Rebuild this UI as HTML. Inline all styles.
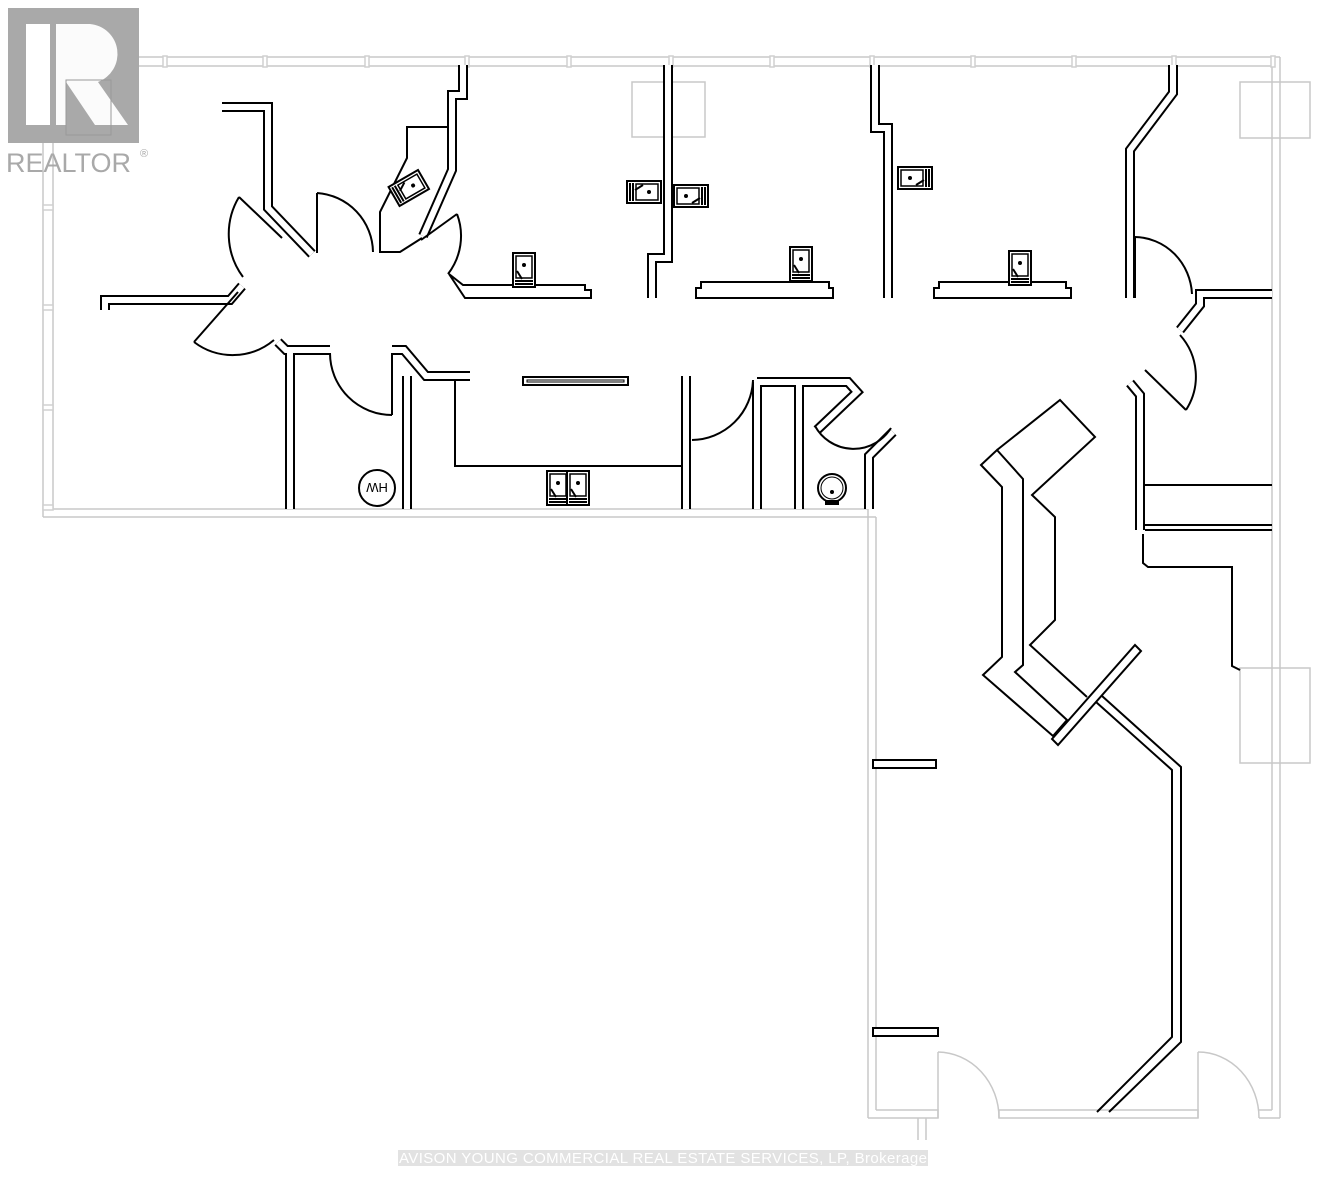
<!DOCTYPE html>
<html><head><meta charset="utf-8"><style>
html,body{margin:0;padding:0;background:#fff}
svg{display:block}
.t{fill:none;stroke:#000;stroke-width:2}
.p{fill:#fff;stroke:#000;stroke-width:2}
.g{fill:none;stroke:#c8c8c8;stroke-width:1.5}
.wb polyline,.wb line{fill:none;stroke:#000;stroke-width:10}
.ww polyline,.ww line{fill:none;stroke:#fff;stroke-width:6}
</style></head><body>
<svg width="1324" height="1200" viewBox="0 0 1324 1200" xmlns="http://www.w3.org/2000/svg">
<defs>
<g id="sv">
<rect x="0" y="0" width="22" height="34" fill="#fff" stroke="#000" stroke-width="2"/>
<rect x="3" y="3" width="16" height="22" fill="none" stroke="#000" stroke-width="1.5"/>
<circle cx="11" cy="12" r="2" fill="#000"/>
<line x1="4" y1="18" x2="9" y2="26" stroke="#000" stroke-width="2"/>
<line x1="2" y1="28" x2="20" y2="28" stroke="#000" stroke-width="2"/>
<line x1="2" y1="31" x2="20" y2="31" stroke="#000" stroke-width="2"/>
</g>
</defs>

<g class="g">
<line x1="43" y1="57" x2="1280" y2="57"/>
<line x1="53" y1="66" x2="1272" y2="66"/>
<line x1="43" y1="57" x2="43" y2="517"/>
<line x1="53" y1="66" x2="53" y2="509"/>
<line x1="53" y1="509" x2="868" y2="509"/>
<line x1="43" y1="517" x2="876" y2="517"/>
<line x1="876" y1="517" x2="876" y2="1110"/>
<line x1="868" y1="509" x2="868" y2="1118"/>
<line x1="1272" y1="66" x2="1272" y2="1110"/>
<line x1="1280" y1="57" x2="1280" y2="1118"/>
<polyline points="876,1110 938,1110 938,1118 868,1118"/>
<polyline points="999,1110 1198,1110 1198,1118 999,1118 999,1110"/>
<line x1="1259" y1="1110" x2="1272" y2="1110"/>
<line x1="1259" y1="1118" x2="1280" y2="1118"/>
<line x1="918" y1="1118" x2="918" y2="1140"/><line x1="926" y1="1118" x2="926" y2="1140"/>
<rect x="632" y="82" width="73" height="55"/>
<rect x="1240" y="82" width="70" height="56"/>
<rect x="1240" y="668" width="70" height="95"/>
<line x1="938" y1="1052" x2="938" y2="1118"/>
<path d="M938,1052 A62,66 0 0 1 999,1118"/>
<line x1="1198" y1="1052" x2="1198" y2="1118"/>
<path d="M1198,1052 A61,66 0 0 1 1259,1118"/>
</g>
<g stroke="#d0d0d0" stroke-width="1.5" fill="#fff">
<rect x="163" y="56" width="4" height="11"/><rect x="263" y="56" width="4" height="11"/><rect x="365" y="56" width="4" height="11"/><rect x="465" y="56" width="4" height="11"/><rect x="567" y="56" width="4" height="11"/><rect x="669" y="56" width="4" height="11"/><rect x="770" y="56" width="4" height="11"/><rect x="870" y="56" width="4" height="11"/><rect x="971" y="56" width="4" height="11"/><rect x="1072" y="56" width="4" height="11"/><rect x="1172" y="56" width="4" height="11"/><rect x="1271" y="56" width="4" height="11"/>
<rect x="43" y="105" width="10" height="5"/><rect x="43" y="205" width="10" height="5"/><rect x="43" y="305" width="10" height="5"/><rect x="43" y="405" width="10" height="5"/><rect x="43" y="505" width="10" height="5"/>
</g>

<g class="wb">
<polyline points="222,107 268,107 268,208 312,254"/>
<polyline points="105,310 105,300 230,300 242,286"/>
<polyline points="463,65 463,95 452,95 452,170 423,236"/>
<polyline points="668,65 668,258 652,258 652,298"/>
<polyline points="875,65 875,128 888,128 888,298"/>
<polyline points="1173,65 1173,93 1130,150 1130,298"/>
<polyline points="1272,294 1200,294 1200,305 1180,330"/>
<polyline points="278,342 286,350 330,350"/>
<line x1="290" y1="350" x2="290" y2="509"/>
<polyline points="392,350 404,350 426,376 470,376"/>
<polyline points="407,376 407,509"/>
<polyline points="686,376 686,509"/>
<polyline points="757,382 848,382 857,392 817,430"/>
<line x1="757" y1="382" x2="757" y2="509"/>
<line x1="799" y1="382" x2="799" y2="509"/>
<polyline points="893,432 869,456 869,509"/>
<polyline points="1130,383 1140,395 1140,530"/>
</g>
<g class="ww">
<polyline points="222,107 268,107 268,208 312,254"/>
<polyline points="105,310 105,300 230,300 242,286"/>
<polyline points="463,65 463,95 452,95 452,170 423,236"/>
<polyline points="668,65 668,258 652,258 652,298"/>
<polyline points="875,65 875,128 888,128 888,298"/>
<polyline points="1173,65 1173,93 1130,150 1130,298"/>
<polyline points="1272,294 1200,294 1200,305 1180,330"/>
<polyline points="278,342 286,350 330,350"/>
<line x1="290" y1="350" x2="290" y2="509"/>
<polyline points="392,350 404,350 426,376 470,376"/>
<polyline points="407,376 407,509"/>
<polyline points="686,376 686,509"/>
<polyline points="757,382 848,382 857,392 817,430"/>
<line x1="757" y1="382" x2="757" y2="509"/>
<line x1="799" y1="382" x2="799" y2="509"/>
<polyline points="893,432 869,456 869,509"/>
<polyline points="1130,383 1140,395 1140,530"/>
</g>

<g class="t">
<polyline points="447,127 407,127 407,158 380,212 380,252 400,252 422,238"/>
<polyline points="455,380 455,466 681,466"/>
<line x1="1145" y1="485" x2="1272" y2="485"/>
<line x1="1145" y1="525" x2="1272" y2="525"/>
<line x1="1145" y1="530" x2="1272" y2="530"/>
<polyline points="1143,534 1143,563 1148,567 1232,567 1232,666 1240,670"/>
</g>

<polygon class="p" points="449,274 463,285 585,285 585,290 591,290 591,298 465,298"/>
<polygon class="p" points="696,288 701,288 701,282 829,282 829,288 833,288 833,298 696,298"/>
<polygon class="p" points="934,288 939,288 939,282 1066,282 1066,288 1071,288 1071,298 934,298"/>
<rect class="p" x="523" y="377" width="105" height="8"/>
<rect x="527" y="380" width="97" height="2" fill="none" stroke="#000" stroke-width="1"/>

<polygon class="p" points="981,465 997,450 1023,479 1023,665 1015,672 1067,720 1053,736 983,675 1002,657 1002,487"/>
<polyline class="t" points="997,450 1060,400 1095,437 1032,495 1055,517 1055,620 1030,645 1087,697"/>
<polygon class="p" points="1052,739 1135,645 1141,651 1058,745"/>
<polyline class="t" points="1096,702 1172,770 1172,1037 1097,1112"/>
<polyline class="t" points="1102,696 1181,767 1181,1042 1109,1112"/>
<rect class="p" x="873" y="760" width="63" height="8"/>
<rect class="p" x="873" y="1028" width="65" height="8"/>

<g class="t">
<line x1="239" y1="197" x2="282" y2="238"/>
<path d="M239,197 A72,72 0 0 0 243,277"/>
<line x1="317" y1="193" x2="317" y2="253"/>
<path d="M317,193 A60,60 0 0 1 373,252"/>
<line x1="457" y1="214" x2="421" y2="240"/>
<path d="M457,214 A62,62 0 0 1 448,274"/>
<line x1="194" y1="342" x2="238" y2="292"/>
<path d="M194,342 A64,64 0 0 0 274,340"/>
<line x1="392" y1="353" x2="392" y2="415"/>
<path d="M330,353 A62,62 0 0 0 392,415"/>
<path d="M753,380 A62,62 0 0 1 692,440"/>
<path d="M815,426 A44,44 0 0 0 891,428"/>
<line x1="1135" y1="237" x2="1135" y2="298"/>
<path d="M1135,237 A58,60 0 0 1 1192,294"/>
<path d="M1180,335 A62,62 0 0 1 1186,410"/>
<line x1="1186" y1="410" x2="1145" y2="370"/>
</g>

<use href="#sv" x="513" y="253"/>
<use href="#sv" x="790" y="247"/>
<use href="#sv" x="1009" y="251"/>
<use href="#sv" transform="translate(661,181) rotate(90)"/>
<use href="#sv" transform="translate(674,207) rotate(-90)"/>
<use href="#sv" transform="translate(898,189) rotate(-90)"/>
<use href="#sv" transform="translate(418,170) rotate(60)"/>
<use href="#sv" x="547" y="471"/>
<use href="#sv" x="567" y="471"/>
<circle cx="377" cy="488" r="18" class="t"/>
<text x="377" y="493" font-family="Liberation Sans, sans-serif" font-size="13" text-anchor="middle" transform="rotate(180 377 488)">HW</text>
<circle cx="832" cy="488" r="14" class="t"/>
<circle cx="832" cy="488" r="11" fill="none" stroke="#000" stroke-width="1"/>
<circle cx="832" cy="492" r="2" fill="#000"/>
<rect x="825" y="500" width="14" height="5" fill="#000"/>

<rect x="8" y="8" width="131" height="135" fill="#a9a9a9"/>
<rect x="26" y="24" width="24" height="101" fill="#fff"/>
<path d="M56,24 H90 A30,30 0 0 1 98,82 L128,125 H95 L66,82 V125 H56 Z" fill="#fff" opacity="0.95"/>
<rect x="66" y="80" width="45" height="55" fill="none" stroke="#999" stroke-width="1"/>
<text x="6" y="172" font-family="Liberation Sans, sans-serif" font-size="27" fill="#a9a9a9">REALTOR</text>
<text x="140" y="157" font-family="Liberation Sans, sans-serif" font-size="11" fill="#a9a9a9">®</text>

<rect x="398" y="1150" width="530" height="16" fill="#e2e2e2"/>
<text x="399" y="1163" font-family="Liberation Sans, sans-serif" font-size="15" fill="#fff" textLength="528">AVISON YOUNG COMMERCIAL REAL ESTATE SERVICES, LP, Brokerage</text>
</svg>
</body></html>
